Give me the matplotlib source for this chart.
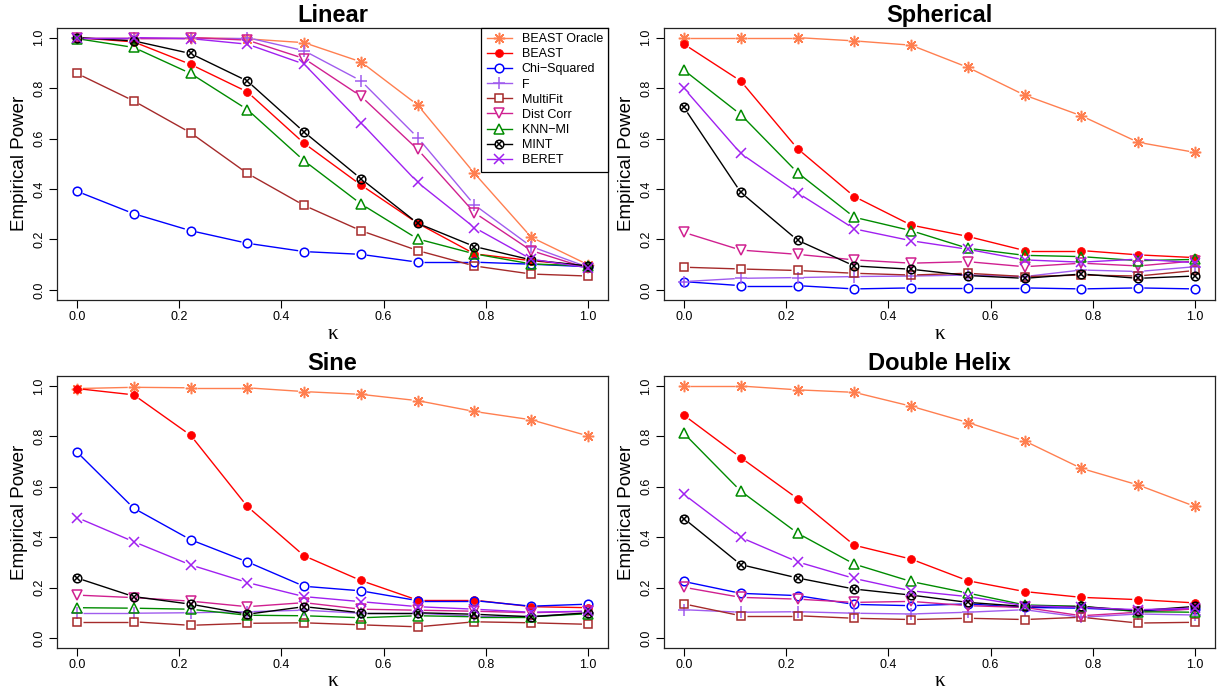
import numpy as np
import matplotlib
matplotlib.use('Agg')
import matplotlib.pyplot as plt
from matplotlib.collections import LineCollection
from matplotlib.lines import Line2D

plt.rcParams['font.family'] = ['Liberation Sans', 'DejaVu Sans']

KAPPA = np.linspace(0, 1, 10)

METHODS = ['BEAST Oracle', 'BEAST', 'Chi\u2212Squared', 'F', 'MultiFit',
           'Dist Corr', 'KNN\u2212MI', 'MINT', 'BERET']

COLORS = {
    'BEAST Oracle': '#FF7F50',
    'BEAST': '#FF0000',
    'Chi\u2212Squared': '#0000FF',
    'F': '#A05CEE',
    'MultiFit': '#A52A2A',
    'Dist Corr': '#D02090',
    'KNN\u2212MI': '#008B00',
    'MINT': '#000000',
    'BERET': '#A020F0',
}

# power curves, one list per method, for kappa = 0, 1/9, ..., 1
linear = {
    'BEAST Oracle': [1.0, 1.0, 1.0, 0.995, 0.98, 0.904, 0.733, 0.462, 0.209, 0.100],
    'BEAST': [1.0, 0.983, 0.894, 0.785, 0.581, 0.416, 0.264, 0.143, 0.116, 0.095],
    'Chi\u2212Squared': [0.391, 0.302, 0.235, 0.185, 0.152, 0.141, 0.110, 0.110, 0.102, 0.092],
    'F': [1.0, 1.0, 1.0, 1.0, 0.948, 0.829, 0.604, 0.337, 0.172, 0.090],
    'MultiFit': [0.858, 0.749, 0.623, 0.462, 0.335, 0.235, 0.156, 0.095, 0.063, 0.055],
    'Dist Corr': [1.0, 1.0, 1.0, 0.99, 0.917, 0.768, 0.557, 0.306, 0.156, 0.085],
    'KNN\u2212MI': [0.996, 0.961, 0.858, 0.715, 0.512, 0.341, 0.202, 0.143, 0.103, 0.095],
    'MINT': [1.0, 0.987, 0.937, 0.828, 0.626, 0.441, 0.264, 0.172, 0.119, 0.095],
    'BERET': [1.0, 1.0, 0.996, 0.974, 0.895, 0.663, 0.426, 0.247, 0.122, 0.088],
}

spherical = {
    'BEAST Oracle': [1.0, 1.0, 1.0, 0.987, 0.970, 0.882, 0.772, 0.690, 0.585, 0.545],
    'BEAST': [0.974, 0.828, 0.560, 0.370, 0.257, 0.212, 0.156, 0.156, 0.139, 0.128],
    'Chi\u2212Squared': [0.033, 0.017, 0.017, 0.004, 0.008, 0.008, 0.008, 0.004, 0.008, 0.004],
    'F': [0.033, 0.046, 0.049, 0.053, 0.055, 0.059, 0.053, 0.079, 0.073, 0.092],
    'MultiFit': [0.090, 0.083, 0.077, 0.066, 0.059, 0.066, 0.053, 0.059, 0.055, 0.077],
    'Dist Corr': [0.228, 0.158, 0.141, 0.119, 0.106, 0.112, 0.092, 0.106, 0.095, 0.115],
    'KNN\u2212MI': [0.871, 0.695, 0.465, 0.288, 0.235, 0.165, 0.137, 0.132, 0.116, 0.121],
    'MINT': [0.723, 0.387, 0.197, 0.095, 0.082, 0.057, 0.046, 0.063, 0.046, 0.055],
    'BERET': [0.799, 0.541, 0.385, 0.242, 0.195, 0.161, 0.119, 0.110, 0.122, 0.108],
}

sine = {
    'BEAST Oracle': [0.990, 0.995, 0.993, 0.993, 0.978, 0.967, 0.942, 0.899, 0.866, 0.802],
    'BEAST': [0.990, 0.965, 0.805, 0.522, 0.326, 0.228, 0.150, 0.150, 0.124, 0.120],
    'Chi\u2212Squared': [0.738, 0.515, 0.390, 0.302, 0.205, 0.187, 0.148, 0.148, 0.126, 0.134],
    'F': [0.098, 0.098, 0.100, 0.104, 0.110, 0.098, 0.098, 0.086, 0.086, 0.098],
    'MultiFit': [0.064, 0.064, 0.050, 0.058, 0.060, 0.052, 0.044, 0.064, 0.060, 0.054],
    'Dist Corr': [0.170, 0.160, 0.146, 0.124, 0.140, 0.114, 0.110, 0.106, 0.100, 0.106],
    'KNN\u2212MI': [0.120, 0.118, 0.114, 0.090, 0.088, 0.080, 0.088, 0.084, 0.084, 0.096],
    'MINT': [0.238, 0.164, 0.134, 0.094, 0.124, 0.100, 0.100, 0.094, 0.084, 0.100],
    'BERET': [0.478, 0.382, 0.290, 0.220, 0.164, 0.144, 0.124, 0.114, 0.102, 0.106],
}

double_helix = {
    'BEAST Oracle': [1.0, 1.0, 0.985, 0.975, 0.920, 0.855, 0.782, 0.673, 0.607, 0.522],
    'BEAST': [0.884, 0.716, 0.553, 0.368, 0.313, 0.227, 0.184, 0.161, 0.152, 0.139],
    'Chi\u2212Squared': [0.224, 0.177, 0.168, 0.133, 0.128, 0.135, 0.121, 0.118, 0.108, 0.115],
    'F': [0.112, 0.102, 0.104, 0.098, 0.095, 0.102, 0.112, 0.082, 0.095, 0.091],
    'MultiFit': [0.135, 0.088, 0.088, 0.078, 0.073, 0.078, 0.073, 0.082, 0.059, 0.062],
    'Dist Corr': [0.201, 0.161, 0.154, 0.141, 0.145, 0.128, 0.121, 0.088, 0.102, 0.115],
    'KNN\u2212MI': [0.812, 0.583, 0.416, 0.293, 0.224, 0.178, 0.131, 0.125, 0.104, 0.102],
    'MINT': [0.474, 0.291, 0.238, 0.194, 0.170, 0.141, 0.125, 0.125, 0.108, 0.125],
    'BERET': [0.570, 0.399, 0.302, 0.236, 0.187, 0.164, 0.128, 0.121, 0.112, 0.118],
}

PANELS = [('Linear', linear), ('Spherical', spherical),
          ('Sine', sine), ('Double Helix', double_helix)]

# axes rectangles in figure fractions (left, bottom, width, height)
RECTS = [(0.0461, 0.5714, 0.4502, 0.3893), (0.5412, 0.5714, 0.4502, 0.3893),
         (0.0461, 0.0743, 0.4502, 0.3886), (0.5412, 0.0743, 0.4502, 0.3886)]

MS = 6.2
GAP = 6.0  # px gap between line segments and points (R type="b")


def marker_styles(name, face):
    """list of marker kwargs drawn on top of each other for one method"""
    c = COLORS[name]
    ew = 1.1
    if name == 'BEAST Oracle':
        return [dict(marker=(8, 2, 0), markersize=MS + 2, markeredgewidth=ew)]
    if name == 'BEAST':
        return [dict(marker='o', markersize=MS - 0.5, markerfacecolor=c, markeredgewidth=0.5)]
    if name == 'Chi\u2212Squared':
        return [dict(marker='o', markersize=MS, markerfacecolor=face, markeredgewidth=ew)]
    if name == 'F':
        return [dict(marker='+', markersize=MS + 3, markeredgewidth=ew)]
    if name == 'MultiFit':
        return [dict(marker='s', markersize=MS, markerfacecolor=face, markeredgewidth=ew)]
    if name == 'Dist Corr':
        return [dict(marker='v', markersize=MS + 1, markerfacecolor=face, markeredgewidth=ew)]
    if name == 'KNN\u2212MI':
        return [dict(marker='^', markersize=MS + 1, markerfacecolor=face, markeredgewidth=ew)]
    if name == 'MINT':
        return [dict(marker='o', markersize=MS, markerfacecolor=face, markeredgewidth=ew),
                dict(marker='x', markersize=MS - 1.5, markeredgewidth=ew)]
    return [dict(marker='x', markersize=MS + 0.5, markeredgewidth=ew)]


def gapped_line(ax, x, y, color):
    pts = ax.transData.transform(np.column_stack([x, y]))
    segs = []
    for p, q in zip(pts[:-1], pts[1:]):
        d = q - p
        L = np.hypot(d[0], d[1])
        if L <= 2 * GAP:
            continue
        u = d / L
        a = ax.transData.inverted().transform(p + u * GAP)
        b = ax.transData.inverted().transform(q - u * GAP)
        segs.append([a, b])
    ax.add_collection(LineCollection(segs, colors=color, linewidths=1.0))


fig = plt.figure(figsize=(12.26, 7.0), dpi=100)

for i, ((title, data), rect) in enumerate(zip(PANELS, RECTS)):
    ax = fig.add_axes(rect)
    ax.set_xlim(-0.04, 1.04)
    ax.set_ylim(-0.04, 1.04)
    for name in METHODS:
        y = np.array(data[name])
        gapped_line(ax, KAPPA, y, COLORS[name])
        for st in marker_styles(name, 'none'):
            ax.plot(KAPPA, y, linestyle='none', color=COLORS[name], **st)

    ticks = np.arange(0, 1.01, 0.2)
    ax.set_xticks(ticks)
    ax.set_yticks(ticks)
    ax.set_xticklabels([f'{v:.1f}' for v in ticks])
    ax.set_yticklabels([f'{v:.1f}' for v in ticks], rotation=90, va='center')
    ax.tick_params(direction='out', length=6, width=0.8, labelsize=9, pad=2)
    for s in ax.spines.values():
        s.set_linewidth(0.9)
        s.set_color('#222222')
    ax.set_title(title, fontsize=17, fontweight='bold', pad=4)
    ax.set_ylabel('Empirical Power', fontsize=13.5, labelpad=4)
    ax.set_xlabel('\u03ba', fontsize=15, labelpad=1, family=['Liberation Serif', 'DejaVu Serif'])

    if i == 0:
        handles = []
        for name in METHODS:
            parts = [Line2D([], [], color=COLORS[name], linewidth=1.0 if k == 0 else 0,
                            **st) for k, st in enumerate(marker_styles(name, 'white'))]
            handles.append(tuple(parts) if len(parts) > 1 else parts[0])
        leg = ax.legend(handles, METHODS, loc='upper right', bbox_to_anchor=(1.0, 1.0),
                        fontsize=9, frameon=True, fancybox=False, framealpha=1,
                        edgecolor='black', borderaxespad=0, labelspacing=0.25,
                        handlelength=2.0, handletextpad=0.8, borderpad=0.45)
        leg.get_frame().set_linewidth(0.9)

fig.savefig('out.png', dpi=100)
